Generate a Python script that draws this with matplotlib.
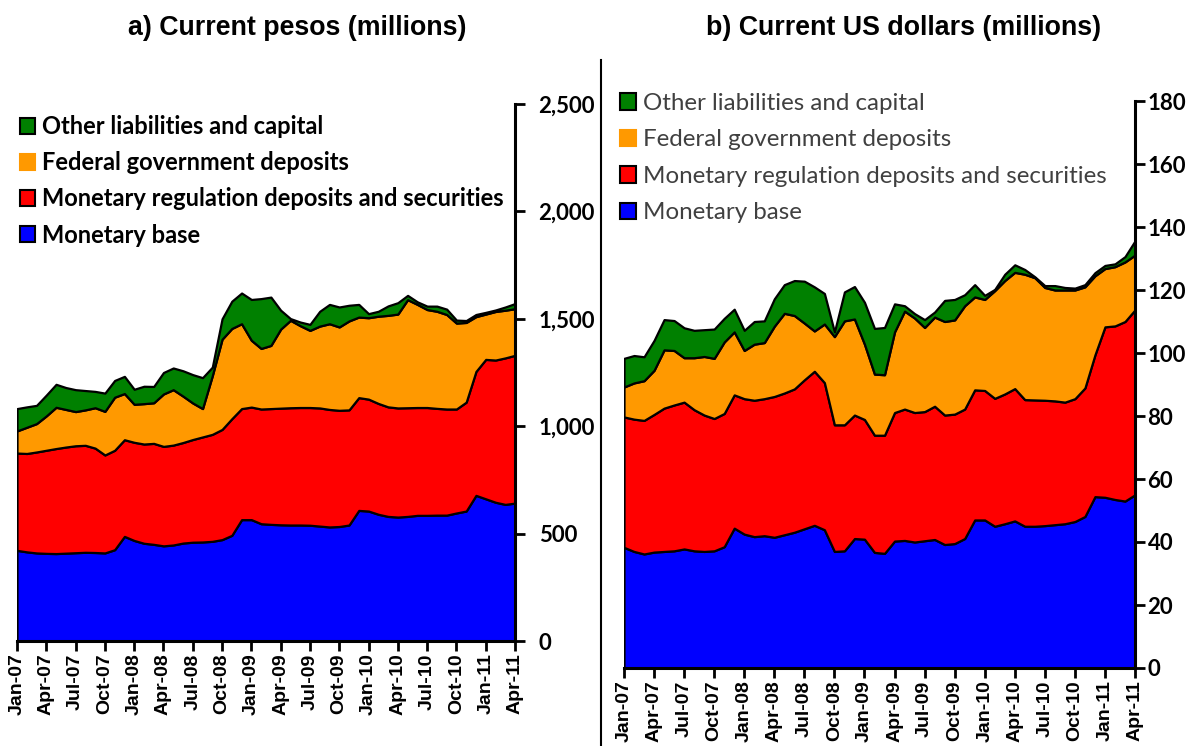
import numpy as np
import matplotlib
matplotlib.use("Agg")
import matplotlib.pyplot as plt
from matplotlib.patches import Patch
from matplotlib.lines import Line2D
from matplotlib.ticker import FuncFormatter, FixedLocator

# ---- data ----
tick_labels = ["Jan-07", "Apr-07", "Jul-07", "Oct-07", "Jan-08", "Apr-08", "Jul-08",
               "Oct-08", "Jan-09", "Apr-09", "Jul-09", "Oct-09", "Jan-10", "Apr-10",
               "Jul-10", "Oct-10", "Jan-11", "Apr-11"]
series_names = ["Monetary base", "Monetary regulation deposits and securities",
                "Federal government deposits", "Other liabilities and capital"]

# a) current pesos (millions), monthly Jan-07 .. Apr-11
peso_base = [422, 415, 410, 408, 407, 409, 411, 413, 412, 410, 425, 487, 468, 455, 450,
             443, 447, 456, 460, 461, 464, 472, 492, 565, 565, 546, 543, 541, 540, 540,
             539, 535, 531, 533, 540, 608, 605, 590, 580, 577, 580, 585, 585, 586, 586,
             596, 605, 678, 662, 646, 636, 642]
peso_regul = [453, 458, 470, 480, 489, 494, 498, 498, 486, 456, 463, 450, 457, 462, 470,
              463, 465, 468, 478, 489, 498, 513, 543, 517, 524, 534, 539, 543, 546, 547,
              548, 550, 547, 541, 536, 525, 521, 516, 510, 508, 506, 502, 502, 497, 494,
              484, 507, 577, 649, 662, 682, 688]
peso_fed = [103, 122, 132, 160, 192, 175, 159, 165, 188, 203, 247, 215, 177, 188, 189,
            244, 258, 216, 170, 132, 273, 420, 420, 395, 311, 282, 294, 368, 407, 381,
            359, 381, 399, 388, 414, 375, 379, 406, 426, 437, 503, 480, 456, 452, 440,
            400, 371, 255, 211, 226, 222, 217]
peso_other = [104, 95, 85, 97, 107, 102, 102, 90, 76, 85, 78, 80, 70, 81, 76,
              100, 101, 118, 132, 144, 40, 95, 127, 143, 190, 232, 225, 88, 8, 17,
              28, 69, 90, 93, 73, 59, 19, 23, 44, 53, 20, 12, 16, 24, 25,
              14, 9, 10, 8, 7, 15, 24]

# b) current US dollars (millions)
usd_base = [38.3, 37.0, 36.2, 36.8, 37.0, 37.2, 37.8, 37.2, 37.0, 37.2, 38.5, 44.4, 42.5,
            41.7, 42.0, 41.5, 42.3, 43.1, 44.2, 45.3, 43.9, 37.0, 37.2, 41.1, 40.9, 36.7,
            36.4, 40.3, 40.5, 40.0, 40.4, 40.8, 39.2, 39.5, 41.1, 47.0, 47.0, 45.0, 45.8,
            46.7, 45.0, 45.0, 45.2, 45.5, 45.8, 46.5, 48.1, 54.4, 54.2, 53.5, 53.0, 55.0]
usd_regul = [41.4, 42.0, 42.4, 43.7, 45.5, 46.3, 46.6, 44.8, 43.3, 42.0, 42.3, 42.3, 43.0,
             43.3, 43.5, 44.7, 45.0, 45.5, 47.3, 48.9, 46.7, 40.2, 40.0, 39.2, 38.0, 37.2,
             37.5, 40.8, 41.7, 41.1, 41.0, 42.3, 41.1, 41.1, 41.1, 41.3, 41.1, 40.6, 41.2,
             42.0, 40.2, 40.1, 39.8, 39.3, 38.6, 39.0, 40.8, 45.0, 54.1, 55.1, 57.0, 58.7]
usd_fed = [9.5, 11.5, 12.6, 14.0, 18.5, 17.3, 14.1, 16.5, 18.6, 19.1, 22.7, 20.0, 15.3,
           17.8, 17.8, 22.3, 25.3, 23.3, 18.0, 12.8, 18.6, 28.0, 33.0, 30.5, 23.9, 19.4,
           19.2, 25.6, 31.1, 30.0, 26.7, 28.3, 29.7, 29.9, 32.8, 29.5, 28.9, 34.2, 36.0,
           36.9, 39.8, 38.8, 35.8, 35.2, 35.6, 34.5, 32.1, 25.1, 18.5, 18.8, 18.9, 17.4]
usd_other = [9.1, 8.7, 7.6, 9.5, 9.6, 9.5, 9.5, 8.7, 8.5, 9.3, 7.5, 7.2, 6.4,
             7.2, 6.9, 8.7, 9.1, 11.1, 13.3, 14.0, 9.7, 1.5, 9.2, 10.3, 13.3, 14.5,
             15.0, 8.9, 1.7, 1.4, 2.5, 1.6, 6.7, 6.5, 3.5, 3.9, 1.3, 0.4, 2.0,
             2.4, 1.5, 0.3, 0.6, 1.4, 0.8, 0.6, 0.7, 1.0, 1.0, 0.9, 1.7, 4.5]

colors = ["#0000ff", "#ff0000", "#ff9900", "#008000"]

W, H = 1202, 746
fig = plt.figure(figsize=(W / 100, H / 100), dpi=100)

def px_axes(x0, x1, y_top, y_bot):
    return fig.add_axes([x0 / W, 1 - y_bot / H, (x1 - x0) / W, (y_bot - y_top) / H])

ax1 = px_axes(17, 515, 104, 641)
ax2 = px_axes(624, 1135, 101, 668)

x = np.arange(len(peso_base))
tick_pos = np.arange(0, len(x), 3)

def style(ax, ymax, step, fmt, ypad):
    ax.set_xlim(0, len(x) - 1)
    ax.set_ylim(0, ymax)
    for s in ["top", "left"]:
        ax.spines[s].set_visible(False)
    ax.spines["bottom"].set_linewidth(2.2)
    ax.spines["right"].set_linewidth(2.2)
    ax.yaxis.tick_right()
    ax.yaxis.set_major_locator(FixedLocator(np.arange(0, ymax + 1, step)))
    ax.yaxis.set_major_formatter(FuncFormatter(fmt))
    ax.set_xticks(tick_pos)
    ax.set_xticklabels(tick_labels, rotation=90, family="Liberation Sans",
                       fontweight="bold", fontsize=14)
    ax.tick_params(axis="x", direction="out", length=7, width=2, pad=2)
    ax.tick_params(axis="y", direction="out", length=7, width=2, pad=ypad)
    for t in ax.get_yticklabels():
        t.set_family("Lato")
        t.set_fontweight("bold")
        t.set_fontsize(16)

ax1.stackplot(x, peso_base, peso_regul, peso_fed, peso_other, colors=colors,
              edgecolor="black", linewidth=1.6)
style(ax1, 2500, 500, lambda v, p: f"{int(v):,}", 10)

ax2.stackplot(x, usd_base, usd_regul, usd_fed, usd_other, colors=colors,
              edgecolor="black", linewidth=1.6)
style(ax2, 180, 20, lambda v, p: f"{int(v)}", 2)

fig.text(297 / W, 1 - 28 / H, "a) Current pesos (millions)", ha="center", va="center",
         family="Liberation Sans", fontweight="bold", fontsize=19.3)
fig.text(904 / W, 1 - 28 / H, "b) Current US dollars (millions)", ha="center", va="center",
         family="Liberation Sans", fontweight="bold", fontsize=19.3)

# legends (top entry = top of stack)
handles = []
for name, c in zip(series_names[::-1], colors[::-1]):
    ec = c if c == "#ff9900" else "black"
    handles.append(Patch(facecolor=c, edgecolor=ec, linewidth=1.5, label=name))

leg1 = fig.legend(handles=handles, loc="upper left", bbox_to_anchor=(20 / W, 1 - 115 / H),
                  frameon=False, prop={"family": "Lato", "weight": "bold", "size": 17},
                  handlelength=0.65, handleheight=0.65, handletextpad=0.3,
                  labelspacing=0.56, borderpad=0, borderaxespad=0)
leg2 = fig.legend(handles=handles, loc="upper left", bbox_to_anchor=(620 / W, 1 - 93 / H),
                  frameon=False, prop={"family": "Lato", "size": 17.4},
                  handlelength=0.65, handleheight=0.65, handletextpad=0.3,
                  labelspacing=0.64, borderpad=0, borderaxespad=0, labelcolor="#404040")

fig.add_artist(Line2D([601 / W, 601 / W], [0, 1 - 60 / H], color="black", linewidth=1.5))

fig.savefig("out.png", dpi=100)
